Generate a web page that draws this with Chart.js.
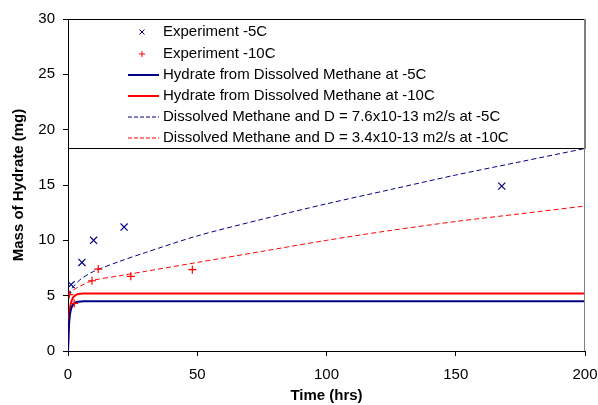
<!DOCTYPE html>
<html lang="en">
<head>
    <meta charset="UTF-8">
    <title>Mass of Hydrate</title>
    <script src="https://cdn.jsdelivr.net/npm/chart.js@4.4.0/dist/chart.umd.min.js"></script>
    <style>
        body { margin: 0; background: #fff; }
    </style>
</head>
<body>
    <canvas id="myCanvas" width="598" height="405"></canvas>
    <script>
    // experimental points
    var exp5Time = [1.2, 5.4, 9.9, 21.7, 167.8];
    var exp5Mass = [6.0, 8.0, 10.0, 11.2, 14.9];
    var exp10Time = [0.5, 2.4, 9.3, 11.7, 24.3, 48.1];
    var exp10Mass = [5.1, 4.3, 6.35, 7.4, 6.75, 7.35];

    // hydrate from dissolved methane (model)
    var hydTime = [0, 0.3, 0.6, 1, 1.5, 2, 3, 4, 6, 10, 50, 100, 200];
    var hyd5Mass = [0, 2.0, 3.0, 3.6, 4.0, 4.2, 4.4, 4.45, 4.5, 4.5, 4.5, 4.5, 4.5];
    var hyd10Mass = [0, 2.5, 3.6, 4.2, 4.6, 4.85, 5.05, 5.15, 5.2, 5.2, 5.2, 5.2, 5.2];

    // dissolved methane + diffusion (model)
    var difTime = [0.5, 1, 2, 5, 10, 20, 30, 50, 75, 100, 125, 150, 175, 200];
    var dif5Mass = [5.0, 5.4, 5.8, 6.5, 7.2, 8.1, 8.9, 10.4, 11.9, 13.3, 14.6, 15.9, 17.1, 18.3];
    var dif10Mass = [4.9, 5.2, 5.5, 5.9, 6.4, 6.8, 7.2, 8.0, 9.0, 10.0, 10.9, 11.7, 12.4, 13.1];

    var legendLabels = [
        'Experiment -5C',
        'Experiment -10C',
        'Hydrate from Dissolved Methane at -5C',
        'Hydrate from Dissolved Methane at -10C',
        'Dissolved Methane and D = 7.6x10-13 m2/s at -5C',
        'Dissolved Methane and D = 3.4x10-13 m2/s at -10C'
    ];

    var NAVY = '#000080';
    var RED = '#ff0000';

    function pts(xs, ys) {
        return xs.map(function(x, i) { return {x: x, y: ys[i]}; });
    }

    // legend box drawn over the top of the plot, like the original
    var boxLegend = {
        id: 'boxLegend',
        afterDatasetsDraw: function(chart) {
            var ctx = chart.ctx, a = chart.chartArea;
            var top = a.top, bottom = a.top + 129;
            ctx.save();
            ctx.fillStyle = '#fff';
            ctx.fillRect(a.left, top, a.right - a.left, bottom - top);
            ctx.strokeStyle = '#000';
            ctx.lineWidth = 1;
            ctx.strokeRect(a.left + 0.5, top + 0.5, a.right - a.left - 0.5, bottom - top);
            // right border of plot
            ctx.strokeStyle = '#808080';
            ctx.beginPath();
            ctx.moveTo(a.right - 0.5, top);
            ctx.lineTo(a.right - 0.5, a.bottom);
            ctx.stroke();

            ctx.font = '15px Arial, "Liberation Sans"';
            ctx.textBaseline = 'middle';
            ctx.textAlign = 'left';
            var rowY = [32, 54, 75, 96, 117, 138];
            var mx = 142, lx0 = 128, lx1 = 159, tx = 163;
            legendLabels.forEach(function(t, i) {
                var y = rowY[i];
                ctx.setLineDash([]);
                ctx.lineWidth = 1;
                if (i === 0) {
                    ctx.strokeStyle = NAVY;
                    ctx.beginPath();
                    ctx.moveTo(mx - 2.5, y - 2.5); ctx.lineTo(mx + 2.5, y + 2.5);
                    ctx.moveTo(mx - 2.5, y + 2.5); ctx.lineTo(mx + 2.5, y - 2.5);
                    ctx.stroke();
                } else if (i === 1) {
                    ctx.strokeStyle = RED;
                    ctx.beginPath();
                    ctx.moveTo(mx - 3, y); ctx.lineTo(mx + 3, y);
                    ctx.moveTo(mx, y - 3); ctx.lineTo(mx, y + 3);
                    ctx.stroke();
                } else {
                    ctx.strokeStyle = (i % 2 === 0) ? NAVY : RED;
                    if (i >= 4) { ctx.setLineDash([4, 2]); } else { ctx.lineWidth = 2; }
                    ctx.beginPath();
                    ctx.moveTo(lx0, y); ctx.lineTo(lx1, y);
                    ctx.stroke();
                }
                ctx.fillStyle = '#000';
                ctx.fillText(t, tx, y);
            });
            ctx.restore();
        }
    };

    var ctx = document.getElementById('myCanvas').getContext('2d');
    var myChart = new Chart(ctx, {
        type: 'scatter',
        data: {
            datasets: [
                { label: legendLabels[0], data: pts(exp5Time, exp5Mass), pointStyle: 'crossRot',
                  pointRadius: 5, borderColor: NAVY, borderWidth: 1.2, showLine: false },
                { label: legendLabels[1], data: pts(exp10Time, exp10Mass), pointStyle: 'cross',
                  pointRadius: 4, borderColor: RED, borderWidth: 1.2, showLine: false },
                { label: legendLabels[2], data: pts(hydTime, hyd5Mass), showLine: true, pointRadius: 0,
                  borderColor: NAVY, borderWidth: 2, tension: 0.3 },
                { label: legendLabels[3], data: pts(hydTime, hyd10Mass), showLine: true, pointRadius: 0,
                  borderColor: RED, borderWidth: 2, tension: 0.3 },
                { label: legendLabels[4], data: pts(difTime, dif5Mass), showLine: true, pointRadius: 0,
                  borderColor: NAVY, borderWidth: 1, borderDash: [5, 3], tension: 0.3 },
                { label: legendLabels[5], data: pts(difTime, dif10Mass), showLine: true, pointRadius: 0,
                  borderColor: RED, borderWidth: 1, borderDash: [5, 3], tension: 0.3 }
            ]
        },
        options: {
            responsive: false,
            animation: false,
            layout: { padding: { top: 19, right: 13, left: 0, bottom: 0 } },
            plugins: { legend: { display: false }, tooltip: { enabled: false } },
            scales: {
                x: {
                    type: 'linear', min: 0, max: 200,
                    ticks: { stepSize: 50, color: '#000', padding: 10,
                             font: { family: 'Arial, "Liberation Sans"', size: 15 } },
                    grid: { drawOnChartArea: false, drawTicks: true, tickLength: 5, color: '#000' },
                    border: { display: true, color: '#000', width: 1 },
                    title: { display: true, text: 'Time (hrs)', color: '#000', padding: { top: 0, bottom: 0 },
                             font: { family: 'Arial, "Liberation Sans"', size: 15, weight: 'bold' } },
                    afterFit: function(s) { s.height = 54; s.paddingLeft = 0; s.paddingRight = 0; }
                },
                y: {
                    min: 0, max: 30,
                    ticks: { stepSize: 5, color: '#000', padding: 8,
                             font: { family: 'Arial, "Liberation Sans"', size: 15 } },
                    grid: { drawOnChartArea: false, drawTicks: true, tickLength: 5, color: '#000' },
                    border: { display: true, color: '#000', width: 1 },
                    title: { display: true, text: 'Mass of Hydrate (mg)', color: '#000', padding: { top: 10, bottom: 0 },
                             font: { family: 'Arial, "Liberation Sans"', size: 15, weight: 'bold' } },
                    afterFit: function(s) { s.width = 68; s.paddingTop = 0; s.paddingBottom = 0; }
                }
            }
        },
        plugins: [boxLegend]
    });
    </script>
</body>
</html>
